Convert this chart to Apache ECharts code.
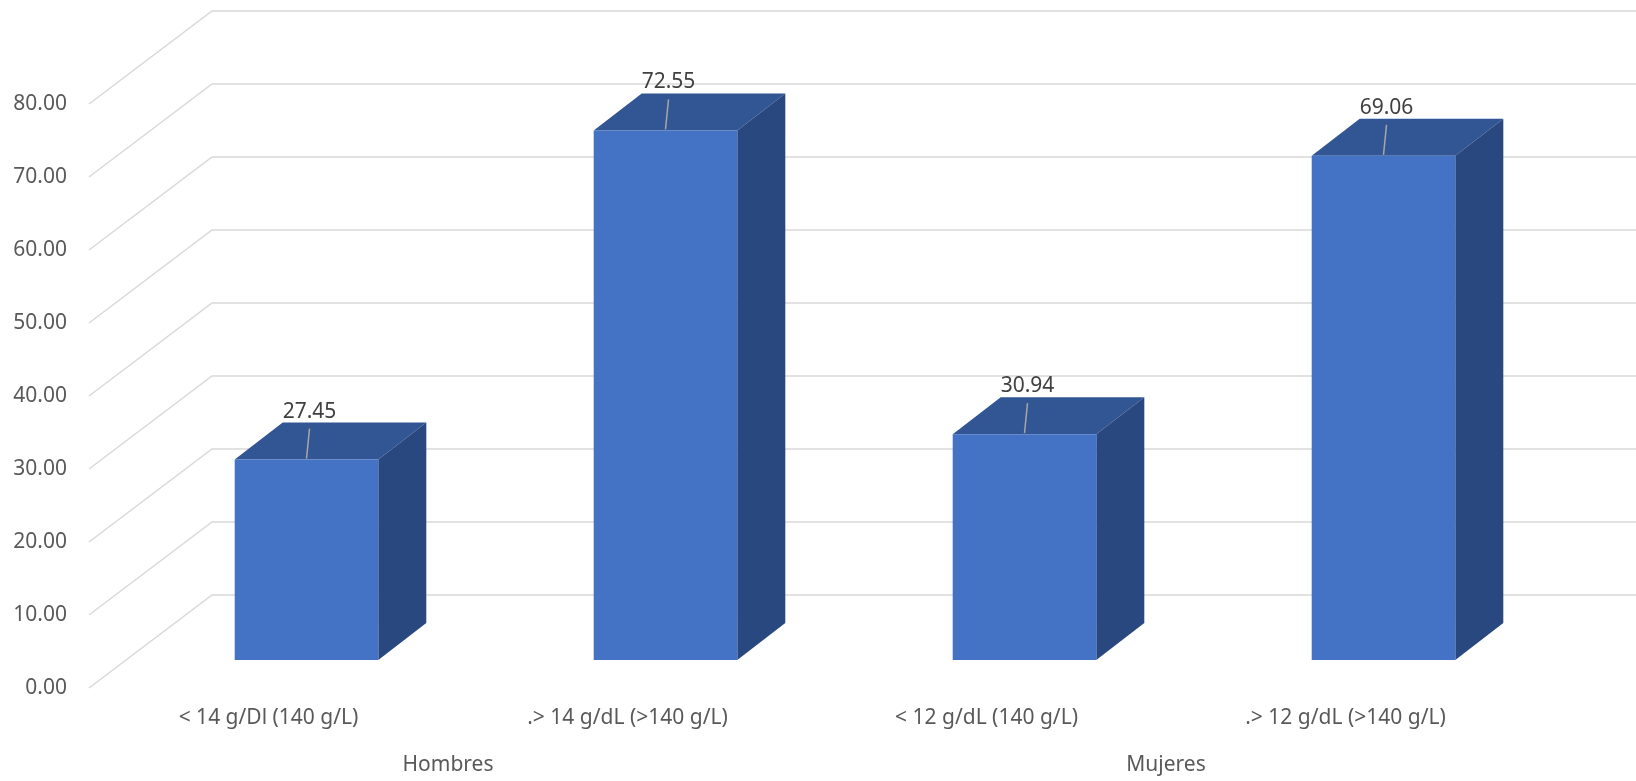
<!DOCTYPE html>
<html>
<head>
<meta charset="utf-8">
<script src="https://cdn.jsdelivr.net/npm/echarts@6/dist/echarts.min.js"></script>
<style>
  html, body { margin: 0; padding: 0; background: #ffffff; }
  #chart { width: 1636px; height: 781px; }
</style>
</head>
<body>
<div id="chart"></div>
<script>
// Hemoglobin levels by sex (percentages)
const categories = ['< 14 g/Dl (140 g/L)', '.> 14 g/dL (>140 g/L)', '< 12 g/dL (140 g/L)', '.> 12 g/dL (>140 g/L)'];
const groups = ['Hombres', 'Mujeres'];
const values = [27.45, 72.55, 30.94, 69.06];
const yTicks = [0, 10, 20, 30, 40, 50, 60, 70, 80];

// Pseudo-3D geometry (pixels)
const FLOOR_DX = 123, FLOOR_DY = -93;   // front edge of floor -> back wall
const BAR_DX = 38, BAR_DY = -28;        // front face of bars sits partway back
const DEPTH_DX = 48, DEPTH_DY = -37;    // thickness of each bar
const BAR_WIDTH = 0.4;                  // fraction of a category band

const FONT = '"Noto Sans", "Open Sans", sans-serif';
const chart = echarts.init(document.getElementById('chart'), null, { renderer: 'canvas' });

function renderGrid(params, api) {
  const v = api.value(1);
  const y = api.coord([0, v])[1];
  const x0 = params.coordSys.x;
  return {
    type: 'polyline',
    shape: { points: [[x0, y], [x0 + FLOOR_DX, y + FLOOR_DY], [api.getWidth(), y + FLOOR_DY]] },
    style: { stroke: '#D9D9D9', lineWidth: 1.5, fill: null },
    silent: true
  };
}

function renderBar(params, api) {
  const i = api.value(0);
  const v = api.value(1);
  const top = api.coord([i, v]);
  const base = api.coord([i, 0]);
  const bw = api.size([1, 0])[0] * BAR_WIDTH;
  const cx = top[0] + BAR_DX;
  const l = cx - bw / 2, r = cx + bw / 2;
  const t = top[1] + BAR_DY, b = base[1] + BAR_DY;
  return {
    type: 'group',
    children: [
      {
        type: 'polygon',
        shape: { points: [[l, t], [r, t], [r + DEPTH_DX, t + DEPTH_DY], [l + DEPTH_DX, t + DEPTH_DY]] },
        style: { fill: '#325593' }
      },
      {
        type: 'polygon',
        shape: { points: [[r, t], [r + DEPTH_DX, t + DEPTH_DY], [r + DEPTH_DX, b + DEPTH_DY], [r, b]] },
        style: { fill: '#2A4880' }
      },
      {
        type: 'rect',
        shape: { x: l, y: t, width: bw, height: b - t },
        style: { fill: '#4472C4' }
      },
      {
        type: 'line',
        shape: { x1: cx + 3, y1: t - 31, x2: cx, y2: t - 1 },
        style: { stroke: '#A6A6A6', lineWidth: 1.5 }
      },
      {
        type: 'text',
        x: cx + 3,
        y: t - 48,
        style: {
          text: v.toFixed(2),
          fill: '#404040',
          font: '21px ' + FONT,
          align: 'center',
          verticalAlign: 'middle'
        }
      }
    ]
  };
}

const option = {
  animation: false,
  backgroundColor: '#ffffff',
  grid: { left: 89, right: 111, top: 104, bottom: 93, containLabel: false },
  xAxis: [
    {
      type: 'category',
      data: categories,
      position: 'bottom',
      axisLine: { show: false },
      axisTick: { show: false },
      splitLine: { show: false },
      axisLabel: { color: '#595959', fontFamily: FONT, fontSize: 21, margin: 20, interval: 0 }
    },
    {
      type: 'category',
      data: groups,
      position: 'bottom',
      axisLine: { show: false },
      axisTick: { show: false },
      splitLine: { show: false },
      axisLabel: { color: '#595959', fontFamily: FONT, fontSize: 21, margin: 67, interval: 0 }
    }
  ],
  yAxis: {
    type: 'value',
    min: yTicks[0],
    max: yTicks[yTicks.length - 1],
    interval: 10,
    axisLine: { show: false },
    axisTick: { show: false },
    splitLine: { show: false },
    axisLabel: {
      color: '#595959', fontFamily: FONT, fontSize: 21, margin: 22,
      formatter: (v) => v.toFixed(2)
    }
  },
  series: [
    {
      type: 'custom',
      name: 'grid',
      xAxisIndex: 0,
      renderItem: renderGrid,
      data: yTicks.map(v => [0, v]),
      encode: { x: 0, y: 1 },
      z: 1,
      silent: true,
      clip: false
    },
    {
      type: 'custom',
      name: 'bars',
      xAxisIndex: 0,
      renderItem: renderBar,
      data: values.map((v, i) => [i, v]),
      encode: { x: 0, y: 1 },
      z: 2,
      clip: false
    }
  ]
};
chart.setOption(option);
</script>
</body>
</html>
